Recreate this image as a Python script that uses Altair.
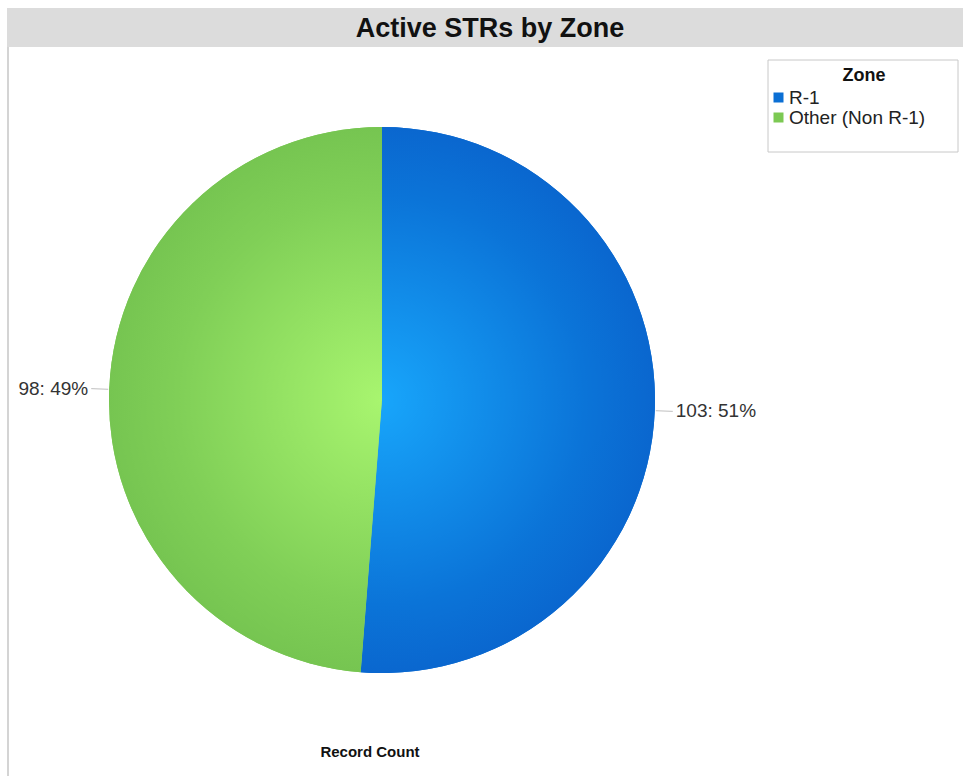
import altair as alt
import pandas as pd

# ---- data ----
zones = ["R-1", "Other (Non R-1)"]
counts = [103, 98]
order_idx = [0, 1]
colors = ["#0b6fd4", "#7cc953"]

title_text = ["Active STRs by Zone"]
legend_title = ["Zone"]
footer_text = ["Record Count"]

# ---- layout constants ----
W, H = 963, 776
CX, CY, R = 382, 400, 273
R_IN, R_OUT, R_TXT = 274, 291, 294
FONT = "Liberation Sans"

df = pd.DataFrame({"zone": zones, "count": counts, "idx": order_idx})

blue_grad = {
    "gradient": "radial",
    "x1": 0.2656, "y1": 0.5, "r1": 0,
    "x2": 0.2656, "y2": 0.5, "r2": 0.5,
    "stops": [{"offset": 0, "color": "#18a6fb"}, {"offset": 0.75, "color": "#0b74d8"}, {"offset": 1, "color": "#0a67cf"}],
}
green_grad = {
    "gradient": "radial",
    "x1": 0.75, "y1": 0.5, "r1": 0,
    "x2": 0.75, "y2": 0.5, "r2": 0.5,
    "stops": [{"offset": 0, "color": "#a8f56f"}, {"offset": 0.75, "color": "#80cf57"}, {"offset": 1, "color": "#76c551"}],
}

one = pd.DataFrame({"k": [0]})

title_bar = alt.Chart(one).mark_rect(color="#dcdcdc").encode(
    x=alt.value(7), x2=alt.value(W), y=alt.value(8), y2=alt.value(47)
)
left_border = alt.Chart(one).mark_rect(color="#d4d4d4").encode(
    x=alt.value(7), x2=alt.value(9), y=alt.value(47), y2=alt.value(H)
)
title = alt.Chart(pd.DataFrame({"t": title_text})).mark_text(
    font=FONT, fontSize=27, fontWeight="bold", color="#111", align="center", baseline="middle"
).encode(text="t:N", x=alt.value(490), y=alt.value(29))

legend_box = alt.Chart(one).mark_rect(fill="white", stroke="#c8c8c8", strokeWidth=1).encode(
    x=alt.value(768), x2=alt.value(958), y=alt.value(60), y2=alt.value(152)
)
legend_head = alt.Chart(pd.DataFrame({"t": legend_title})).mark_text(
    font=FONT, fontSize=18, fontWeight="bold", color="#111", align="center", baseline="middle"
).encode(text="t:N", x=alt.value(864), y=alt.value(76))

footer = alt.Chart(pd.DataFrame({"t": footer_text})).mark_text(
    font=FONT, fontSize=15, fontWeight="bold", color="#111", align="center", baseline="middle"
).encode(text="t:N", x=alt.value(370), y=alt.value(752))

base = alt.Chart(df)

pie = base.mark_arc(radius=R).encode(
    theta=alt.Theta("count:Q", stack=True),
    color=alt.Color(
        "zone:N",
        scale=alt.Scale(domain=zones, range=colors),
        legend=alt.Legend(
            title=None, orient="none", legendX=769, legendY=88,
            symbolType="square", symbolSize=100, symbolStrokeWidth=0,
            labelFont=FONT, labelFontSize=19, labelColor="#222",
            rowPadding=0, labelOffset=1, padding=0,
        ),
    ),
    order=alt.Order("idx:Q"),
    x=alt.value(CX), y=alt.value(CY),
)

pie_grad = base.mark_arc(radius=R).encode(
    theta=alt.Theta("count:Q", stack=True),
    fill=alt.condition("datum.zone == 'R-1'", alt.value(blue_grad), alt.value(green_grad)),
    order=alt.Order("idx:Q"),
    x=alt.value(CX), y=alt.value(CY),
)

geo = base.transform_joinaggregate(total="sum(count)").transform_window(
    cum="sum(count)", sort=[alt.SortField("idx")], frame=[None, 0]
).transform_calculate(
    mid="(datum.cum - datum.count / 2) / datum.total * 2 * PI",
    pct="round(datum.count / datum.total * 100)",
).transform_calculate(
    x1=f"{CX} + {R_IN} * sin(datum.mid)",
    y1=f"{CY} - {R_IN} * cos(datum.mid)",
    x2=f"{CX} + {R_OUT} * sin(datum.mid)",
    y2=f"{CY} - {R_OUT} * cos(datum.mid)",
    tx=f"{CX} + {R_TXT} * sin(datum.mid)",
    ty=f"{CY} - {R_TXT} * cos(datum.mid)",
    label="datum.count + ': ' + datum.pct + '%'",
    side="sin(datum.mid) >= 0 ? 'right' : 'left'",
)

leaders = geo.mark_rule(color="#c0c0c0", strokeWidth=1).encode(
    x=alt.X("x1:Q", scale=None, axis=None),
    y=alt.Y("y1:Q", scale=None, axis=None),
    x2="x2:Q",
    y2="y2:Q",
)

labels_right = geo.transform_filter("datum.side == 'right'").mark_text(
    font=FONT, fontSize=19, color="#333", align="left", baseline="middle"
).encode(
    x=alt.X("tx:Q", scale=None, axis=None),
    y=alt.Y("ty:Q", scale=None, axis=None),
    text="label:N",
)
labels_left = geo.transform_filter("datum.side == 'left'").mark_text(
    font=FONT, fontSize=19, color="#333", align="right", baseline="middle"
).encode(
    x=alt.X("tx:Q", scale=None, axis=None),
    y=alt.Y("ty:Q", scale=None, axis=None),
    text="label:N",
)

chart = alt.layer(
    title_bar, left_border, title, legend_box, legend_head, footer,
    pie, pie_grad, leaders, labels_right, labels_left,
).resolve_scale(x="independent", y="independent").properties(
    width=W, height=H, padding=0, autosize=alt.AutoSizeParams(type="none"), background="white"
).configure_view(stroke=None)

chart.save("out.html", embed_options={"renderer": "svg", "actions": False})
